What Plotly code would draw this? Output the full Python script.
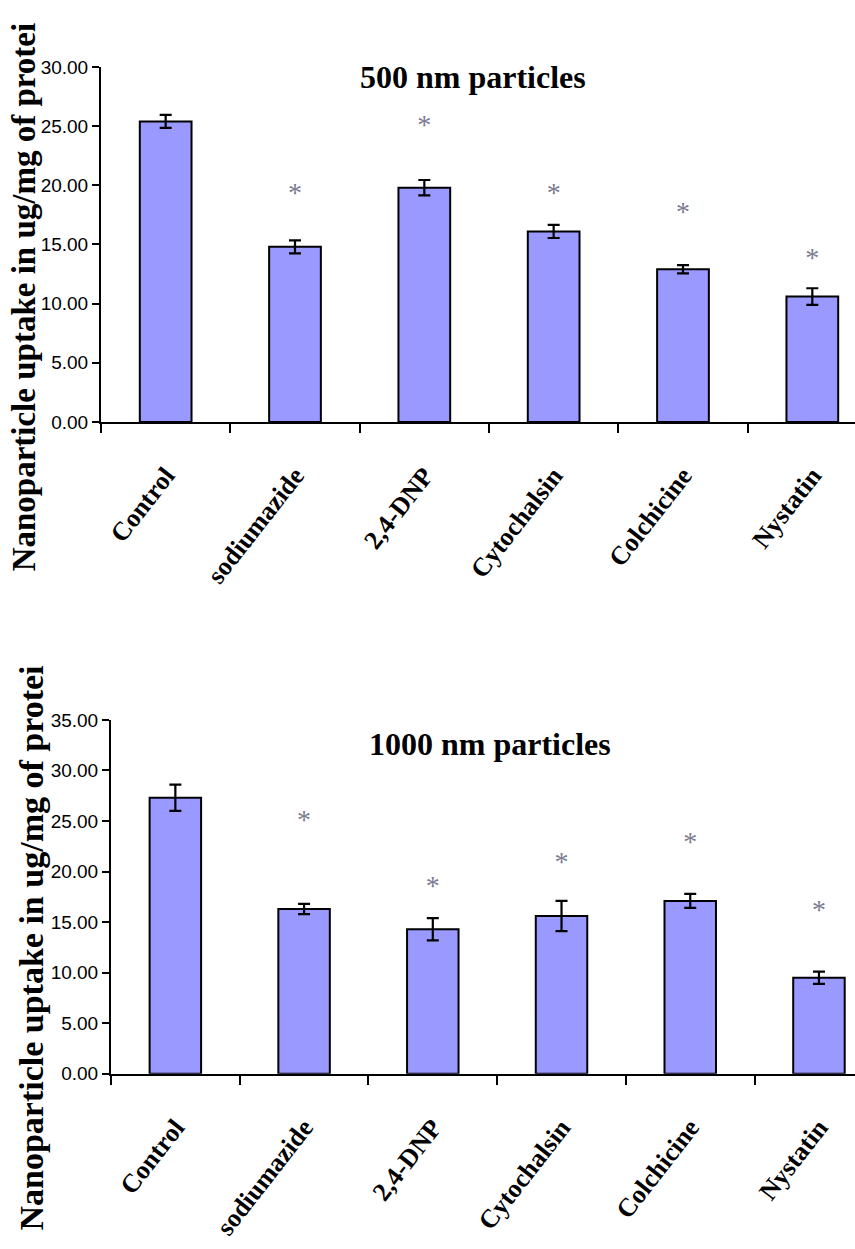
import plotly.graph_objects as go

categories = ["Control", "sodiumazide", "2,4-DNP", "Cytochalsin", "Colchicine", "Nystatin"]

# 500 nm particles
vals_500 = [25.4, 14.8, 19.8, 16.1, 12.9, 10.6]
err_500 = [0.55, 0.55, 0.65, 0.55, 0.35, 0.7]
star_500 = [None, 19.2, 24.9, 19.2, 17.6, 13.7]

# 1000 nm particles
vals_1000 = [27.3, 16.3, 14.3, 15.6, 17.1, 9.5]
err_1000 = [1.3, 0.5, 1.1, 1.5, 0.7, 0.6]
star_1000 = [None, 24.9, 18.4, 20.7, 22.7, 16.0]

yticks_500 = [0, 5, 10, 15, 20, 25, 30]
yticks_1000 = [0, 5, 10, 15, 20, 25, 30, 35]

W, H = 855, 1249
BAR = "#9999FF"
STAR = "#7a7a92"

fig = go.Figure()

def add_panel(vals, errs, stars, xa, ya):
    fig.add_trace(go.Bar(
        x=categories, y=vals, width=0.4,
        marker=dict(color=BAR, line=dict(color="black", width=2)),
        error_y=dict(type="data", array=errs, visible=True, color="black", thickness=2.2, width=6),
        xaxis=xa, yaxis=ya, showlegend=False, hoverinfo="skip"))
    sx = [c for c, s in zip(categories, stars) if s is not None]
    sy = [s for s in stars if s is not None]
    fig.add_trace(go.Scatter(
        x=sx, y=sy, mode="text", text=["*"] * len(sx), textposition="middle center",
        textfont=dict(family="Liberation Serif", size=28, color=STAR),
        xaxis=xa, yaxis=ya, showlegend=False, hoverinfo="skip"))

add_panel(vals_500, err_500, star_500, "x", "y")
add_panel(vals_1000, err_1000, star_1000, "x2", "y2")

def px_x(p):
    return p / W

def px_y(p):
    return (H - p) / H

tickfont = dict(family="Liberation Sans", size=19, color="black")
catfont = dict(family="Liberation Serif", size=26, color="black")

common_x = dict(type="category", showline=True, linecolor="black", linewidth=2,
                ticks="outside", tickson="boundaries", ticklen=9, tickwidth=1.5, tickcolor="black",
                tickangle=-52, tickfont=catfont, showgrid=False, zeroline=False, fixedrange=True,
                ticklabelstandoff=26)
common_y = dict(showline=True, linecolor="black", linewidth=2, ticks="outside", ticklen=7,
                tickwidth=1.5, tickcolor="black", tickfont=tickfont, showgrid=False, zeroline=False,
                tickformat=".2f", fixedrange=True)

fig.update_layout(
    width=W, height=H, margin=dict(l=0, r=0, t=0, b=0),
    paper_bgcolor="white", plot_bgcolor="white",
    xaxis=dict(common_x, domain=[px_x(101), 1.0], range=[-0.5, 5.33], anchor="y",
               ticktext=["<b>%s</b>" % c for c in categories], tickvals=categories),
    yaxis=dict(common_y, domain=[px_y(419), px_y(58)], range=[0, 30], tickvals=yticks_500, anchor="x"),
    xaxis2=dict(common_x, domain=[px_x(111), 1.0], range=[-0.5, 5.28], anchor="y2",
                ticktext=["<b>%s</b>" % c for c in categories], tickvals=categories),
    yaxis2=dict(common_y, domain=[px_y(1082), px_y(722)], range=[0, 35], tickvals=yticks_1000, anchor="x2"),
    bargap=0.6,
)

titlefont = dict(family="Liberation Serif", size=32, color="black")
fig.add_annotation(text="<b>500 nm particles</b>", x=px_x(473), y=px_y(68), xref="paper", yref="paper",
                   showarrow=False, font=titlefont, xanchor="center", yanchor="middle")
fig.add_annotation(text="<b>1000 nm particles</b>", x=px_x(490), y=px_y(747), xref="paper", yref="paper",
                   showarrow=False, font=titlefont, xanchor="center", yanchor="middle")

ylab = "<b>Nanoparticle uptake in ug/mg of protei</b>"
fig.add_annotation(text=ylab, x=px_x(24), y=px_y(573), xref="paper", yref="paper",
                   showarrow=False, font=dict(family="Liberation Serif", size=33, color="black"),
                   textangle=-90, xanchor="center", yanchor="bottom")
fig.add_annotation(text=ylab, x=px_x(32), y=px_y(1244), xref="paper", yref="paper",
                   showarrow=False, font=dict(family="Liberation Serif", size=34, color="black"),
                   textangle=-90, xanchor="center", yanchor="bottom")

fig.write_html("out.html")
